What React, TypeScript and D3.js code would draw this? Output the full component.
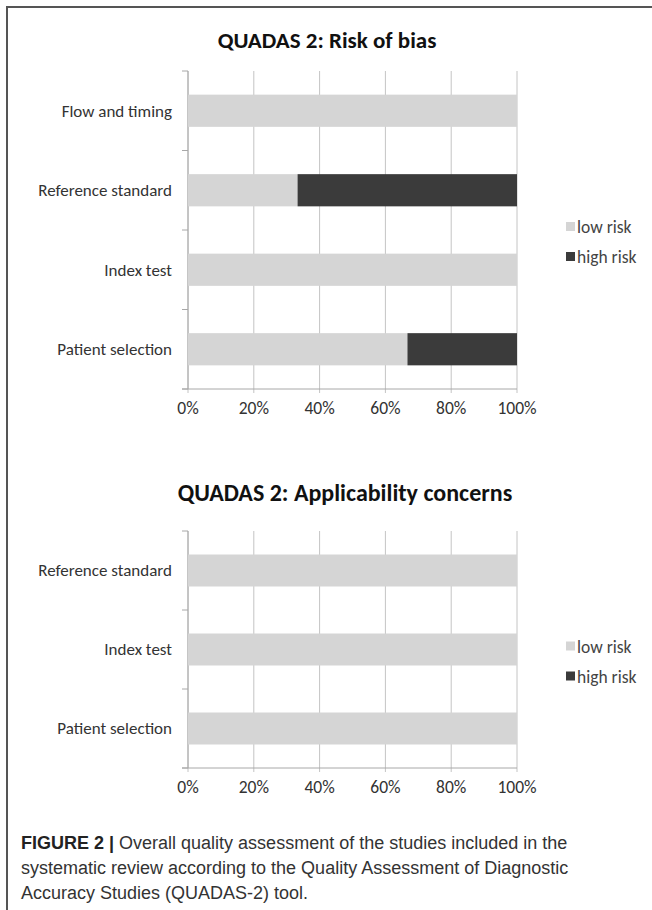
import React from "react";
import { scaleLinear, scaleBand, stack } from "d3";

const riskCategories = ["Patient selection", "Index test", "Reference standard", "Flow and timing"];
const riskLow = [66.7, 100, 33.3, 100];
const riskHigh = [33.3, 0, 66.7, 0];

const applCategories = ["Patient selection", "Index test", "Reference standard"];
const applLow = [100, 100, 100];
const applHigh = [0, 0, 0];

const xTicks = [0, 20, 40, 60, 80, 100];
const legendLabels = ["low risk", "high risk"];
const captionLines = [
  "Overall quality assessment of the studies included in the",
  "systematic review according to the Quality Assessment of Diagnostic",
  "Accuracy Studies (QUADAS-2) tool.",
];

const lowColor = "#d5d5d5";
const highColor = "#3b3b3b";
const gridColor = "#c4c4c4";
const chartFont = "Carlito, Lato, 'Open Sans', sans-serif";

type ChartProps = {
  title: string;
  titleX: number;
  titleY: number;
  titleSize: number;
  categories: string[];
  low: number[];
  high: number[];
  top: number;
  bottom: number;
};

function Chart({ title, titleX, titleY, titleSize, categories, low, high, top, bottom }: ChartProps) {
  const x = scaleLinear().domain([0, 100]).range([188, 517]);
  // categories run bottom-up, like Excel's bar chart
  const y = scaleBand<string>()
    .domain(categories)
    .range([bottom, top])
    .paddingInner(0.595)
    .paddingOuter(0.2975);
  const rows = categories.map((c, i) => ({ cat: c, low: low[i], high: high[i] }));
  const series = stack<any>().keys(["low", "high"])(rows);
  const colors = [lowColor, highColor];
  const step = y.step();
  const bounds = categories.map((c) => (y(c) as number) - y.paddingOuter() * step + step);
  const legendMid = (top + bottom) / 2 + 13;

  return (
    <g fontFamily={chartFont}>
      <text x={titleX} y={titleY} textAnchor="middle" fontSize={titleSize} fontWeight="bold" fill="#111">
        {title}
      </text>
      {xTicks.map((t) => (
        <line key={t} x1={x(t)} x2={x(t)} y1={top} y2={bottom + 4} stroke={gridColor} strokeWidth={1} />
      ))}
      <line x1={188} x2={188} y1={top} y2={bottom} stroke="#a8a8a8" />
      <line x1={182} x2={517} y1={bottom} y2={bottom} stroke="#a8a8a8" />
      {[top, ...bounds].map((b, i) => (
        <line key={i} x1={182} x2={188} y1={b} y2={b} stroke="#a8a8a8" />
      ))}
      {series.map((s, si) =>
        s.map((d: any) => (
          <rect
            key={si + d.data.cat}
            x={x(d[0])}
            y={y(d.data.cat)}
            width={x(d[1]) - x(d[0])}
            height={y.bandwidth()}
            fill={colors[si]}
          />
        ))
      )}
      {categories.map((c) => (
        <text
          key={c}
          x={172}
          y={(y(c) as number) + y.bandwidth() / 2}
          dy="0.35em"
          textAnchor="end"
          fontSize={17}
          fill="#333"
        >
          {c}
        </text>
      ))}
      {xTicks.map((t) => (
        <text key={t} x={x(t)} y={bottom + 19} dy="0.35em" textAnchor="middle" fontSize={17.5} fill="#333">
          {t + "%"}
        </text>
      ))}
      {legendLabels.map((l, i) => (
        <g key={l} transform={`translate(566,${legendMid - 16 + i * 30})`}>
          <rect x={0} y={-5} width={9} height={9} fill={colors[i]} />
          <text x={11} y={0} dy="0.35em" fontSize={17.5} fill="#444">
            {l}
          </text>
        </g>
      ))}
    </g>
  );
}

export default function App() {
  return (
    <svg
      width={652}
      height={910}
      style={{ position: "absolute", left: 0, top: 0, background: "#fff" }}
    >
      <rect x={0} y={0} width={652} height={910} fill="#fff" />
      <line x1={7} x2={652} y1={7} y2={7} stroke="#555" strokeWidth={2} />
      <line x1={7} x2={7} y1={6} y2={910} stroke="#555" strokeWidth={2} />
      <Chart
        title="QUADAS 2: Risk of bias"
        titleX={327}
        titleY={48}
        titleSize={23}
        categories={riskCategories}
        low={riskLow}
        high={riskHigh}
        top={71}
        bottom={389}
      />
      <Chart
        title="QUADAS 2: Applicability concerns"
        titleX={345}
        titleY={501}
        titleSize={24}
        categories={applCategories}
        low={applLow}
        high={applHigh}
        top={531}
        bottom={768}
      />
      <g fontFamily="'Liberation Sans', Arial, sans-serif" fontSize={18} fill="#333">
        {captionLines.map((line, i) => (
          <text key={i} x={21} y={849 + i * 25}>
            {i === 0 && (
              <tspan fontWeight="bold" fill="#222">
                {"FIGURE 2 | "}
              </tspan>
            )}
            {line}
          </text>
        ))}
      </g>
    </svg>
  );
}
